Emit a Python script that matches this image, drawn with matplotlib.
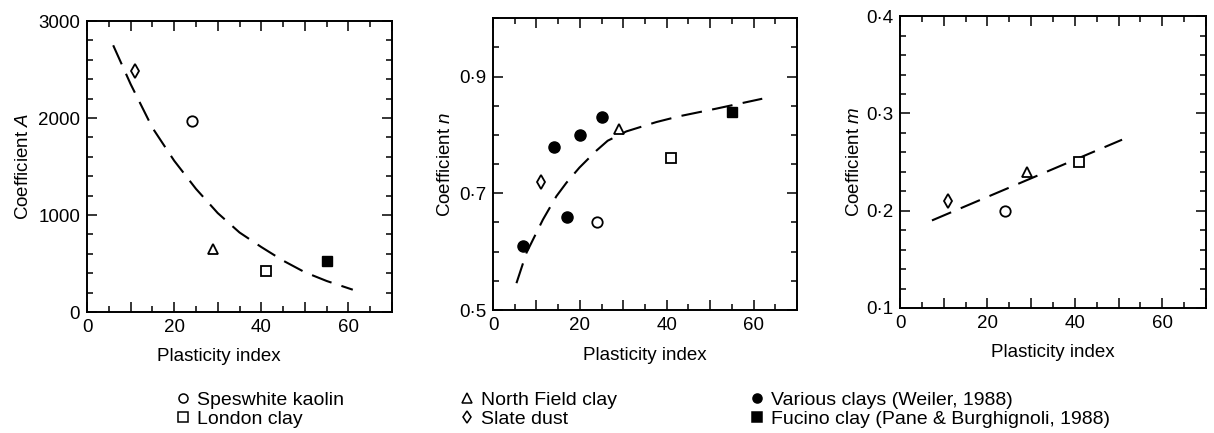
import matplotlib
matplotlib.use("Agg")
import matplotlib.pyplot as plt
from matplotlib.lines import Line2D
from matplotlib.ticker import MultipleLocator, FixedLocator, FuncFormatter

plt.rcParams['font.family'] = ['Liberation Sans', 'DejaVu Sans']
plt.rcParams['mathtext.fontset'] = 'custom'
plt.rcParams['mathtext.rm'] = 'Liberation Sans'
plt.rcParams['mathtext.it'] = 'Liberation Sans:italic'

# data
materials = ["Speswhite kaolin", "London clay", "North Field clay", "Slate dust"]
material_markers = ['o', 's', '^', 'd']
pi_materials = [24, 41, 29, 11]
coef_A = [1970, 420, 650, 2480]
coef_n = [0.65, 0.76, 0.81, 0.72]
coef_m = [0.20, 0.25, 0.24, 0.21]

# Fucino clay (Pane & Burghignoli, 1988)
pi_fucino = [55]
A_fucino = [530]
n_fucino = [0.84]

# Various clays (Weiler, 1988)
pi_weiler = [7, 14, 17, 20, 25]
n_weiler = [0.61, 0.78, 0.66, 0.80, 0.83]

# dashed trend lines
A_curve_pi = [6, 10, 15, 20, 25, 30, 35, 40, 45, 50, 55, 61]
A_curve = [2750, 2350, 1900, 1560, 1270, 1020, 820, 670, 530, 410, 320, 230]
n_curve_pi = [5.4, 7.7, 11.5, 14.6, 16.9, 19.9, 23.8, 26.4, 30.7, 37.6, 42.9, 51.4, 62]
n_curve = [0.546, 0.598, 0.655, 0.695, 0.718, 0.744, 0.773, 0.790, 0.806, 0.822, 0.832, 0.845, 0.862]
m_line_pi = [7.3, 50.8]
m_line = [0.190, 0.273]

FS = 13.5
LFS = 14
MS = 7.5
MEW = 1.3


def dot_fmt(v, pos):
    return ('%.1f' % v).replace('.', '\u00b7')


def style_axes(ax):
    ax.set_xlim(0, 70)
    ax.xaxis.set_major_locator(MultipleLocator(10))
    ax.xaxis.set_minor_locator(MultipleLocator(5))
    ax.xaxis.set_major_formatter(FuncFormatter(lambda v, p: '%d' % v if v % 20 == 0 and v < 70 else ''))
    ax.tick_params(which='both', direction='in', top=True, right=True, labelsize=FS, pad=5, width=1.1)
    ax.tick_params(which='major', length=7)
    ax.tick_params(which='minor', length=4)
    for s in ax.spines.values():
        s.set_linewidth(1.4)
    ax.set_xlabel("Plasticity index", fontsize=FS)


def draw_points(ax, coefs, fucino=None):
    for i, name in enumerate(materials):
        ax.plot(pi_materials[i], coefs[i], linestyle='none', marker=material_markers[i],
                markersize=MS, markerfacecolor='white', markeredgecolor='black', markeredgewidth=MEW)
    if fucino is not None:
        ax.plot(pi_fucino, fucino, linestyle='none', marker='s', markersize=MS,
                color='black')


fig = plt.figure(figsize=(12.14, 4.33), dpi=100)
ax1 = fig.add_axes([0.0717, 0.2794, 0.2512, 0.672])
ax2 = fig.add_axes([0.4061, 0.2840, 0.2504, 0.674])
ax3 = fig.add_axes([0.7414, 0.2887, 0.2520, 0.674])

# Coefficient A
ax1.plot(A_curve_pi, A_curve, color='black', lw=1.5, dashes=(10, 5))
draw_points(ax1, coef_A, A_fucino)
style_axes(ax1)
ax1.set_ylim(0, 3000)
ax1.yaxis.set_major_locator(MultipleLocator(1000))
ax1.yaxis.set_minor_locator(MultipleLocator(200))
ax1.set_ylabel("Coefficient $A$", fontsize=FS)
ax1.yaxis.set_label_coords(-0.18, 0.5)
ax1.xaxis.set_label_coords(0.433, -0.125)

# Coefficient n
ax2.plot(n_curve_pi, n_curve, color='black', lw=1.5, dashes=(10, 5))
ax2.plot(pi_weiler, n_weiler, linestyle='none', marker='o', markersize=MS + 0.5, color='black')
draw_points(ax2, coef_n, n_fucino)
style_axes(ax2)
ax2.set_ylim(0.5, 1.0)
ax2.yaxis.set_major_locator(FixedLocator([0.5, 0.7, 0.9]))
ax2.yaxis.set_minor_locator(MultipleLocator(0.05))
ax2.yaxis.set_major_formatter(FuncFormatter(dot_fmt))
ax2.set_ylabel("Coefficient $n$", fontsize=FS)
ax2.yaxis.set_label_coords(-0.128, 0.5)
ax2.xaxis.set_label_coords(0.5, -0.125)

# Coefficient m
ax3.plot(m_line_pi, m_line, color='black', lw=1.5, dashes=(10, 5))
draw_points(ax3, coef_m)
style_axes(ax3)
ax3.set_ylim(0.1, 0.4)
ax3.yaxis.set_major_locator(MultipleLocator(0.1))
ax3.yaxis.set_minor_locator(MultipleLocator(0.02))
ax3.yaxis.set_major_formatter(FuncFormatter(dot_fmt))
ax3.set_ylabel("Coefficient $m$", fontsize=FS)
ax3.yaxis.set_label_coords(-0.121, 0.5)
ax3.xaxis.set_label_coords(0.5, -0.125)

# legend in three columns below the panels
def mk(marker, filled):
    return Line2D([], [], linestyle='none', marker=marker, markersize=6.5,
                  markerfacecolor='black' if filled else 'white',
                  markeredgecolor='black', markeredgewidth=1.1)

legend_cols = [
    ([mk('o', False), mk('s', False)], ["Speswhite kaolin", "London clay"], 173),
    ([mk('^', False), mk('d', False)], ["North Field clay", "Slate dust"], 457),
    ([mk('o', True), mk('s', True)], ["Various clays (Weiler, 1988)", "Fucino clay (Pane & Burghignoli, 1988)"], 747),
]
for handles, labels, xpix in legend_cols:
    fig.legend(handles, labels, loc='upper left', bbox_to_anchor=(xpix / 1214, 0.097),
               frameon=False, fontsize=LFS, handlelength=1.0, handletextpad=0.25,
               labelspacing=0.1, borderpad=0, borderaxespad=0)

fig.savefig("out.png", dpi=100)
